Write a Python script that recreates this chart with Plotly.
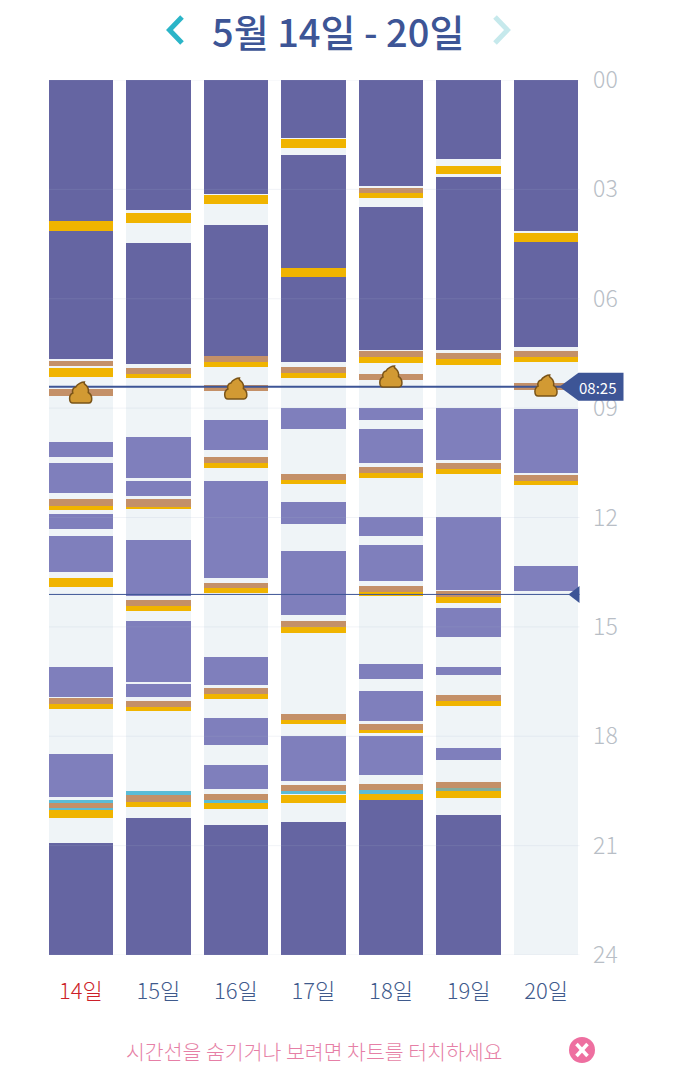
import plotly.graph_objects as go

# Baby log for one week: each day is a list of (start hour, end hour, activity).
# Hours not covered by an entry are awake time.
day_labels = ["14일", "15일", "16일", "17일", "18일", "19일", "20일"]
hour_ticks = [0, 3, 6, 9, 12, 15, 18, 21, 24]
hour_labels = ["00", "03", "06", "09", "12", "15", "18", "21", "24"]

day_14 = [
    (0.00, 3.86, "night"), (3.86, 4.13, "feed"), (4.14, 7.65, "night"), (7.71, 7.85, "diaper"),
    (7.90, 8.14, "feed"), (8.48, 8.66, "diaper"), (9.92, 10.34, "nap"), (10.50, 11.33, "nap"),
    (11.49, 11.68, "diaper"), (11.68, 11.79, "feed"), (11.90, 12.31, "nap"), (12.51, 13.49, "nap"),
    (13.66, 13.91, "feed"), (16.09, 16.92, "nap"), (16.96, 17.11, "diaper"), (17.11, 17.25, "feed"),
    (18.49, 19.67, "nap"), (19.75, 19.82, "bath"), (19.82, 19.99, "diaper"), (19.99, 20.02, "bath"),
    (20.02, 20.24, "feed"), (20.92, 24.00, "night"),
]
day_15 = [
    (0.00, 3.57, "night"), (3.66, 3.91, "feed"), (4.46, 7.79, "night"), (7.90, 8.06, "diaper"),
    (8.06, 8.17, "feed"), (9.79, 10.91, "nap"), (11.00, 11.41, "nap"), (11.49, 11.70, "diaper"),
    (11.70, 11.77, "feed"), (12.62, 14.14, "nap"), (14.26, 14.42, "diaper"), (14.42, 14.56, "feed"),
    (14.83, 16.50, "nap"), (16.57, 16.92, "nap"), (17.03, 17.19, "diaper"), (17.19, 17.31, "feed"),
    (19.50, 19.62, "bath"), (19.62, 19.80, "diaper"), (19.80, 19.93, "feed"), (20.24, 24.00, "night"),
]
day_16 = [
    (0.00, 3.13, "night"), (3.15, 3.40, "feed"), (3.99, 7.57, "night"), (7.57, 7.73, "diaper"),
    (7.73, 7.86, "feed"), (8.36, 8.52, "diaper"), (9.33, 10.15, "nap"), (10.34, 10.50, "diaper"),
    (10.50, 10.65, "feed"), (11.00, 13.66, "nap"), (13.79, 13.94, "diaper"), (13.94, 14.07, "feed"),
    (15.83, 16.60, "nap"), (16.69, 16.84, "diaper"), (16.84, 16.98, "feed"), (17.50, 18.25, "nap"),
    (18.79, 19.45, "nap"), (19.58, 19.75, "diaper"), (19.75, 19.84, "bath"), (19.84, 19.99, "feed"),
    (20.43, 24.00, "night"),
]
day_17 = [
    (0.00, 1.58, "night"), (1.61, 1.87, "feed"), (2.07, 5.15, "night"), (5.15, 5.40, "feed"),
    (5.40, 7.74, "night"), (7.86, 8.04, "diaper"), (8.04, 8.17, "feed"), (9.00, 9.57, "nap"),
    (10.81, 10.97, "diaper"), (10.97, 11.07, "feed"), (11.57, 12.19, "nap"), (12.92, 14.67, "nap"),
    (14.84, 14.99, "diaper"), (14.99, 15.17, "feed"), (17.39, 17.55, "diaper"), (17.55, 17.66, "feed"),
    (17.99, 19.23, "nap"), (19.34, 19.49, "diaper"), (19.49, 19.58, "bath"), (19.62, 19.84, "feed"),
    (20.34, 24.00, "night"),
]
day_18 = [
    (0.00, 2.91, "night"), (2.96, 3.11, "diaper"), (3.11, 3.23, "feed"), (3.49, 7.41, "night"),
    (7.43, 7.59, "diaper"), (7.59, 7.75, "feed"), (8.07, 8.23, "diaper"), (9.00, 9.33, "nap"),
    (9.58, 10.50, "nap"), (10.61, 10.79, "diaper"), (10.79, 10.91, "feed"), (11.99, 12.50, "nap"),
    (12.75, 13.74, "nap"), (13.87, 14.03, "diaper"), (14.03, 14.14, "feed"), (16.02, 16.43, "nap"),
    (16.76, 17.58, "nap"), (17.66, 17.83, "diaper"), (17.83, 17.92, "feed"), (17.99, 19.06, "nap"),
    (19.30, 19.47, "diaper"), (19.47, 19.59, "bath"), (19.59, 19.75, "feed"), (19.75, 24.00, "night"),
]
day_19 = [
    (0.00, 2.17, "night"), (2.35, 2.58, "feed"), (2.66, 7.41, "night"), (7.50, 7.65, "diaper"),
    (7.65, 7.82, "feed"), (9.00, 10.41, "nap"), (10.50, 10.67, "diaper"), (10.67, 10.81, "feed"),
    (11.99, 13.98, "nap"), (14.02, 14.17, "diaper"), (14.17, 14.34, "feed"), (14.49, 15.27, "nap"),
    (16.09, 16.31, "nap"), (16.87, 17.03, "diaper"), (17.03, 17.17, "feed"), (18.33, 18.64, "nap"),
    (19.26, 19.41, "diaper"), (19.41, 19.51, "pump"), (19.51, 19.69, "feed"), (20.16, 24.00, "night"),
]
day_20 = [
    (0.00, 4.14, "night"), (4.19, 4.43, "feed"), (4.43, 7.31, "night"), (7.42, 7.59, "diaper"),
    (7.59, 7.74, "feed"), (8.30, 8.50, "diaper"), (9.03, 10.79, "nap"), (10.83, 10.99, "diaper"),
    (10.99, 11.12, "feed"), (13.33, 14.01, "nap"),
]
week = [day_14, day_15, day_16, day_17, day_18, day_19, day_20]

# Hour at which a stool icon sits on each day's column, keyed by column index.
stool_hours = {0: 8.86, 2: 8.75, 4: 8.42, 6: 8.67}
selected_time = 8 + 25 / 60
selected_label = "08:25"
now_time = 14.11

activity_colors = {
    "night": "#6565A2",
    "nap": "#7F7FBC",
    "feed": "#F0B400",
    "diaper": "#C49068",
    "bath": "#5BBCD6",
    "pump": "#82AD9E",
}
AWAKE = "#EFF4F7"
NAVY = "#3D5596"
KR = "Noto Sans CJK KR"

W, H = 677, 1080
PLOT_LEFT, PLOT_RIGHT, PLOT_TOP, PLOT_BOTTOM = 49, 579.5, 80, 955
COLUMN_CENTER, COLUMN_PITCH = 80.8, 77.55
BAR_WIDTH = 64.6 / COLUMN_PITCH
x_min = (PLOT_LEFT - COLUMN_CENTER) / COLUMN_PITCH
x_max = (PLOT_RIGHT - COLUMN_CENTER) / COLUMN_PITCH
columns = list(range(len(week)))

fig = go.Figure()
fig.add_bar(x=columns, y=[24] * len(week), base=[0] * len(week), width=BAR_WIDTH,
            marker=dict(color=AWAKE, line_width=0), name="awake")

for kind, color in activity_colors.items():
    xs, bases, spans = [], [], []
    for col, day in enumerate(week):
        for start, end, activity in day:
            if activity == kind:
                xs.append(col)
                bases.append(start)
                spans.append(end - start)
    fig.add_bar(x=xs, y=spans, base=bases, width=BAR_WIDTH,
                marker=dict(color=color, line_width=0), name=kind)


def px(x):
    return x / W


def py(y):
    return 1 - y / H


def chrome_line(points, color, width):
    path = "M " + " L ".join(f"{px(x):.5f} {py(y):.5f}" for x, y in points)
    return dict(type="path", xref="paper", yref="paper", path=path,
                line=dict(color=color, width=width), layer="above")


shapes = []

# Hour grid runs over the bars, lightening the dark ones and shading the pale ones.
for hour in hour_ticks:
    shapes.append(dict(type="line", xref="x domain", yref="y", x0=0, x1=1, y0=hour, y1=hour,
                       line=dict(color="rgba(170,180,205,0.16)", width=1), layer="above"))

# Time markers; the badges hang off the right edge, so they are placed on paper in x.
shapes.append(dict(type="line", xref="x domain", yref="y", x0=0, x1=1,
                   y0=selected_time, y1=selected_time,
                   line=dict(color=NAVY, width=2), layer="above"))
shapes.append(dict(type="line", xref="x domain", yref="y", x0=0, x1=1,
                   y0=now_time, y1=now_time,
                   line=dict(color=NAVY, width=1), layer="above"))
shapes.append(dict(type="path", xref="paper", yref="y", xsizemode="pixel", ysizemode="pixel",
                   xanchor=px(PLOT_RIGHT), yanchor=now_time, path="M -11 0 L 0 8.5 L 0 -8.5 Z",
                   fillcolor=NAVY, line_width=0, layer="above"))
shapes.append(dict(type="path", xref="paper", yref="y", xsizemode="pixel", ysizemode="pixel",
                   xanchor=px(PLOT_RIGHT), yanchor=selected_time,
                   path="M -20 0 L -1 14 L 44 14 L 44 -14 L -1 -14 Z",
                   fillcolor=NAVY, line_width=0, layer="above"))

# Stool icon, anchored by column and hour
STOOL_PATH = ("M -8 0 C -12 0 -12.5 8 -8 10 C -9 13 -7.5 15.5 -5 16 C -3.5 19 1 21 3.5 21 "
              "C 3 20 3.5 19 5 18 C 7 16 8 13 7.5 10.5 C 12 8 12 0 8 0 Z")
for col, hour in stool_hours.items():
    shapes.append(dict(type="path", xref="x", yref="y", xsizemode="pixel", ysizemode="pixel",
                       xanchor=col, yanchor=hour, path=STOOL_PATH,
                       fillcolor="#D29A33", line=dict(color="#7A5418", width=1.5), layer="above"))

# Week navigation chevrons
shapes.append(chrome_line([(182, 17), (169.5, 30), (182, 43)], "#2BB5C8", 5))
shapes.append(chrome_line([(495, 17), (507.5, 30), (495, 43)], "#C6E9EC", 5))

# Close button
shapes.append(dict(type="circle", xref="paper", yref="paper",
                   x0=px(569), x1=px(595), y0=py(1063), y1=py(1037),
                   fillcolor="#EE6FA0", line_width=0, layer="above"))
shapes.append(chrome_line([(576.5, 1044), (587.5, 1056)], "white", 3.5))
shapes.append(chrome_line([(587.5, 1044), (576.5, 1056)], "white", 3.5))

tick_text = [f'<span style="color:#CC1F2A">{label}</span>' if i == 0 else label
             for i, label in enumerate(day_labels)]

fig.update_layout(
    width=W, height=H, autosize=False,
    margin=dict(l=0, r=0, t=0, b=0, autoexpand=False),
    paper_bgcolor="white", plot_bgcolor="white",
    barmode="overlay", bargap=0, showlegend=False,
    font=dict(family=KR),
    shapes=shapes,
    xaxis=dict(
        automargin=False,
        domain=[px(PLOT_LEFT), px(PLOT_RIGHT)], range=[x_min, x_max],
        tickmode="array", tickvals=columns, ticktext=tick_text,
        tickfont=dict(family=KR, size=22, color="#3F5A8C", weight=300),
        ticks="outside", ticklen=17, tickcolor="rgba(0,0,0,0)",
        showgrid=False, zeroline=False, showline=False, fixedrange=True,
    ),
    yaxis=dict(
        automargin=False,
        domain=[py(PLOT_BOTTOM), py(PLOT_TOP)], range=[24, 0], side="right",
        tickmode="array", tickvals=hour_ticks, ticktext=hour_labels,
        tickfont=dict(family=KR, size=23, color="#B8BEC6", weight=300),
        ticks="outside", ticklen=8, tickcolor="rgba(0,0,0,0)",
        showgrid=False, zeroline=False, showline=False, fixedrange=True,
    ),
    annotations=[
        dict(text="5월 14일 - 20일", xref="paper", yref="paper", x=px(338), y=py(30),
             showarrow=False, xanchor="center", yanchor="middle",
             font=dict(family=KR, size=38, color=NAVY, weight=500)),
        dict(text=selected_label, xref="paper", yref="paper", x=px(597.5), y=py(387),
             showarrow=False, xanchor="center", yanchor="middle",
             font=dict(family=KR, size=15, color="white")),
        dict(text="시간선을 숨기거나 보려면 차트를 터치하세요", xref="paper", yref="paper",
             x=px(313.5), y=py(1051), showarrow=False, xanchor="center", yanchor="middle",
             font=dict(family=KR, size=20.5, color="#E67FA6", weight=300)),
    ],
)

fig.write_html("out.html", config=dict(displayModeBar=False))
